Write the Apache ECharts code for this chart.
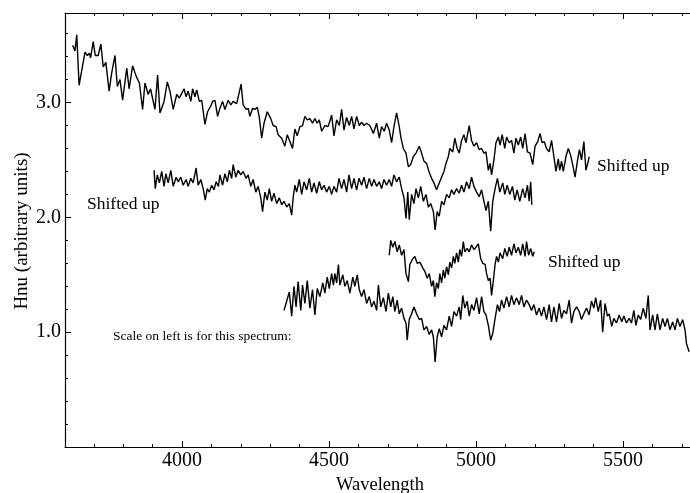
<!DOCTYPE html>
<html><head><meta charset="utf-8">
<script src="https://cdn.jsdelivr.net/npm/echarts@6/dist/echarts.min.js"></script>
<style>html,body{margin:0;padding:0;background:#fff}#c{width:690px;height:493px}</style>
</head><body><div id="c"></div>
<script>
// Spectrum 1 (top, shifted up)
const wl1=[3628,3636,3642,3650,3659,3670,3678,3685,3689,3698,3705,3715,3724,3732,3741,3752,3761,3772,3780,3789,3798,3812,3820,3832,3844,3855,3866,3874,3885,3893,3908,3917,3925,3939,3950,3959,3970,3982,3991,3999,4007,4014,4021,4030,4036,4044,4050,4059,4067,4078,4087,4098,4104,4112,4121,4129,4138,4146,4157,4166,4174,4186,4194,4201,4208,4218,4225,4231,4240,4248,4256,4263,4271,4279,4290,4302,4310,4320,4327,4339,4350,4358,4367,4376,4384,4392,4401,4410,4418,4426,4435,4444,4452,4460,4467,4475,4486,4497,4509,4517,4526,4535,4543,4551,4560,4569,4577,4585,4594,4603,4611,4619,4628,4639,4651,4662,4671,4679,4688,4696,4705,4713,4721,4730,4739,4745,4753,4762,4770,4778,4787,4796,4807,4815,4823,4832,4841,4849,4857,4866,4875,4883,4891,4898,4906,4911,4921,4928,4936,4943,4951,4959,4966,4977,4985,4993,5002,5011,5019,5027,5034,5042,5048,5053,5061,5068,5076,5082,5089,5098,5104,5113,5121,5129,5136,5144,5152,5159,5167,5175,5184,5193,5201,5210,5218,5225,5232,5240,5249,5257,5265,5272,5280,5285,5291,5297,5306,5314,5322,5329,5337,5345,5352,5359,5367,5374,5382,5385];
const flux1=[3.50,3.45,3.59,3.15,3.28,3.44,3.41,3.43,3.39,3.53,3.41,3.41,3.51,3.31,3.35,3.10,3.26,3.41,3.14,3.20,3.02,3.30,3.12,3.32,3.23,3.17,2.94,3.17,3.07,3.12,2.94,3.24,2.91,3.01,3.18,3.10,2.94,3.07,3.04,3.08,3.12,3.05,3.10,3.01,3.12,3.05,3.11,3.01,3.02,2.81,2.92,2.97,3.01,3.02,2.88,2.95,3.01,2.94,3.02,2.98,3.01,2.99,3.08,3.16,2.98,2.94,2.95,2.88,2.95,2.94,2.96,2.87,2.69,2.82,2.92,2.86,2.80,2.79,2.72,2.69,2.62,2.72,2.66,2.60,2.77,2.71,2.79,2.80,2.88,2.85,2.86,2.82,2.86,2.82,2.85,2.75,2.80,2.79,2.89,2.71,2.85,2.80,2.94,2.76,2.87,2.80,2.88,2.77,2.88,2.80,2.83,2.80,2.82,2.80,2.73,2.82,2.69,2.79,2.75,2.82,2.76,2.65,2.79,2.91,2.79,2.69,2.60,2.56,2.44,2.46,2.53,2.56,2.62,2.56,2.49,2.47,2.39,2.34,2.30,2.24,2.30,2.35,2.40,2.47,2.53,2.60,2.57,2.69,2.60,2.56,2.67,2.72,2.65,2.80,2.67,2.62,2.65,2.59,2.60,2.56,2.57,2.41,2.47,2.37,2.50,2.65,2.70,2.63,2.72,2.60,2.70,2.65,2.67,2.56,2.69,2.63,2.70,2.60,2.73,2.57,2.56,2.46,2.62,2.66,2.73,2.65,2.66,2.60,2.57,2.67,2.53,2.40,2.51,2.41,2.49,2.40,2.53,2.60,2.54,2.46,2.35,2.49,2.59,2.50,2.66,2.41,2.49,2.53];

// Spectrum 2 (shifted up)
const wl2=[3905,3909,3916,3923,3931,3939,3945,3953,3962,3970,3980,3987,3996,4004,4014,4021,4030,4038,4048,4055,4064,4072,4079,4086,4093,4101,4109,4116,4124,4129,4138,4146,4154,4161,4169,4174,4183,4191,4200,4208,4218,4225,4234,4242,4251,4259,4268,4274,4282,4290,4297,4305,4313,4322,4331,4339,4347,4356,4365,4373,4378,4384,4390,4399,4407,4415,4424,4433,4441,4449,4458,4467,4475,4483,4492,4501,4509,4517,4526,4534,4543,4551,4560,4568,4577,4585,4594,4602,4611,4619,4628,4637,4645,4653,4662,4671,4679,4687,4696,4705,4713,4721,4730,4739,4747,4755,4762,4768,4773,4781,4789,4796,4804,4812,4821,4830,4838,4846,4855,4861,4868,4875,4883,4891,4900,4909,4917,4925,4934,4943,4951,4959,4968,4977,4985,4993,5002,5011,5019,5027,5034,5042,5050,5057,5065,5073,5081,5091,5098,5106,5115,5124,5132,5140,5149,5159,5167,5175,5181,5186,5190];
const flux2=[2.41,2.25,2.37,2.30,2.40,2.27,2.38,2.30,2.41,2.27,2.35,2.31,2.35,2.28,2.33,2.27,2.34,2.30,2.43,2.28,2.33,2.25,2.15,2.25,2.22,2.28,2.24,2.31,2.27,2.37,2.28,2.38,2.31,2.41,2.34,2.46,2.35,2.41,2.37,2.40,2.34,2.37,2.27,2.33,2.22,2.27,2.17,2.05,2.22,2.15,2.25,2.14,2.21,2.12,2.17,2.11,2.14,2.09,2.12,2.02,2.17,2.28,2.22,2.33,2.20,2.31,2.24,2.34,2.22,2.30,2.21,2.31,2.24,2.28,2.22,2.27,2.20,2.27,2.22,2.34,2.25,2.33,2.22,2.37,2.25,2.34,2.24,2.34,2.28,2.35,2.25,2.34,2.27,2.33,2.27,2.31,2.25,2.33,2.28,2.33,2.27,2.37,2.31,2.35,2.25,2.17,1.99,2.22,1.98,2.20,2.12,2.25,2.17,2.27,2.14,2.20,2.09,2.12,2.05,1.89,2.05,2.01,2.14,2.11,2.20,2.17,2.24,2.20,2.25,2.21,2.28,2.22,2.31,2.25,2.35,2.27,2.22,2.18,2.24,2.14,2.06,2.14,1.88,2.14,2.25,2.34,2.22,2.30,2.20,2.28,2.20,2.27,2.15,2.24,2.14,2.25,2.17,2.28,2.14,2.31,2.11];

// Spectrum 3 (shifted up)
const wl3=[4705,4710,4717,4724,4732,4739,4747,4755,4762,4770,4775,4785,4792,4800,4809,4819,4826,4834,4841,4849,4855,4860,4866,4872,4877,4883,4889,4894,4900,4906,4911,4917,4923,4928,4934,4940,4945,4951,4957,4962,4970,4977,4985,4993,5000,5008,5016,5023,5031,5036,5042,5048,5053,5059,5065,5070,5076,5082,5091,5098,5106,5113,5121,5129,5136,5144,5152,5159,5167,5172,5179,5186,5193,5198];
const flux3=[1.67,1.80,1.74,1.79,1.70,1.76,1.67,1.72,1.51,1.44,1.59,1.64,1.66,1.60,1.61,1.56,1.53,1.47,1.51,1.40,1.45,1.31,1.43,1.38,1.51,1.43,1.54,1.47,1.57,1.50,1.61,1.56,1.66,1.60,1.69,1.61,1.72,1.66,1.79,1.70,1.73,1.70,1.76,1.72,1.74,1.77,1.64,1.60,1.59,1.51,1.45,1.47,1.32,1.45,1.59,1.66,1.61,1.69,1.64,1.73,1.66,1.74,1.67,1.77,1.69,1.74,1.67,1.77,1.66,1.79,1.67,1.73,1.66,1.70];

// Spectrum 4 (bottom, on the left scale)
const wl4=[4347,4356,4365,4373,4381,4388,4395,4404,4410,4418,4426,4435,4444,4452,4460,4469,4479,4486,4494,4501,4509,4515,4520,4526,4532,4537,4547,4554,4562,4571,4581,4588,4596,4603,4611,4619,4628,4637,4645,4653,4662,4668,4676,4685,4694,4702,4710,4717,4724,4732,4739,4747,4755,4762,4766,4773,4781,4789,4798,4807,4815,4823,4832,4841,4849,4855,4861,4868,4875,4883,4891,4900,4909,4917,4925,4934,4943,4948,4955,4962,4970,4977,4985,4993,5002,5011,5019,5027,5034,5042,5050,5057,5065,5073,5080,5087,5095,5104,5113,5121,5129,5138,5147,5155,5163,5172,5181,5189,5197,5206,5215,5223,5231,5240,5249,5257,5265,5274,5283,5291,5299,5308,5317,5325,5333,5342,5351,5359,5367,5376,5385,5393,5401,5407,5416,5424,5431,5439,5447,5453,5462,5469,5478,5487,5496,5503,5512,5521,5529,5537,5544,5552,5560,5569,5578,5586,5592,5601,5609,5617,5626,5635,5643,5651,5660,5669,5677,5685,5694,5703,5711,5716,5725];
const flux4=[1.19,1.27,1.35,1.14,1.40,1.22,1.44,1.19,1.41,1.25,1.45,1.21,1.37,1.15,1.38,1.31,1.43,1.34,1.48,1.38,1.51,1.41,1.51,1.43,1.59,1.41,1.50,1.40,1.45,1.34,1.48,1.40,1.50,1.37,1.31,1.37,1.25,1.31,1.22,1.27,1.19,1.41,1.22,1.30,1.18,1.34,1.22,1.31,1.18,1.28,1.16,1.21,1.12,1.08,0.93,1.11,1.16,1.22,1.16,1.11,1.12,1.02,1.05,0.98,1.02,0.96,0.74,0.96,1.03,0.96,1.06,1.02,1.14,1.05,1.18,1.14,1.22,1.11,1.32,1.21,1.27,1.14,1.24,1.19,1.30,1.16,1.31,1.18,1.15,1.06,0.93,0.99,1.12,1.24,1.18,1.28,1.21,1.31,1.22,1.32,1.24,1.30,1.24,1.32,1.22,1.28,1.24,1.19,1.24,1.15,1.21,1.14,1.22,1.11,1.24,1.09,1.22,1.09,1.25,1.12,1.19,1.16,1.28,1.08,1.18,1.22,1.18,1.11,1.16,1.21,1.15,1.27,1.21,1.30,1.18,1.28,1.00,1.25,1.14,1.16,1.05,1.12,1.08,1.15,1.09,1.14,1.08,1.12,1.08,1.19,1.06,1.15,1.11,1.21,1.12,1.32,1.02,1.15,1.02,1.16,1.02,1.12,1.05,1.12,1.02,1.09,1.02,1.12,1.05,1.11,1.02,0.90,0.83];

// Axes and ticks
const xMajorTicks=[4000,4500,5000,5500];
const xMinorTicks=[3700,3800,3900,4000,4100,4200,4300,4400,4500,4600,4700,4800,4900,5000,5100,5200,5300,5400,5500,5600,5700];
const yMajorTicks=[1,2,3];
const yMinorTicks=[0.2,0.4,0.6,0.8,1.0,1.2,1.4,1.6,1.8,2.0,2.2,2.4,2.6,2.8,3.0,3.2,3.4,3.6];
const xRange=[3602,5728];
const yRange=[0,3.78];

const texts={shifted:'Shifted up',scale:'Scale on left is for this spectrum:',xName:'Wavelength',yName:'Hnu (arbitrary units)'};

const FONT='Liberation Serif';
function pairs(a,b){return a.map((x,i)=>[x,b[i]]);}
const gridBox={left:65,top:13,width:625,height:434};
const ln={color:'#000',width:1.4};

function xAx(grid,pos,ticks,len,showLine,labels){
  return {type:'value',gridIndex:grid,position:pos,min:xRange[0],max:xRange[1],
    axisLine:{show:showLine,lineStyle:{color:'#000',width:1.2}},
    axisTick:{show:true,inside:true,length:len,customValues:ticks,lineStyle:{color:'#000',width:1}},
    axisLabel:labels?{show:true,customValues:xMajorTicks,formatter:v=>String(Math.round(v)),fontFamily:FONT,fontSize:20,color:'#000',margin:4,showMinLabel:true,showMaxLabel:true}:{show:false},
    splitLine:{show:false}};
}
function yAx(grid,ticks,len,showLine,labels){
  return {type:'value',gridIndex:grid,position:'left',min:yRange[0],max:yRange[1],
    axisLine:{show:showLine,lineStyle:{color:'#000',width:1.2}},
    axisTick:{show:true,inside:true,length:len,customValues:ticks,lineStyle:{color:'#000',width:1}},
    axisLabel:labels?{show:true,customValues:yMajorTicks,formatter:v=>Number(v).toFixed(1),fontFamily:FONT,fontSize:20,color:'#000',margin:4}:{show:false},
    splitLine:{show:false}};
}

const chart=echarts.init(document.getElementById('c'),null,{renderer:'canvas'});
chart.setOption({
  animation:false,
  backgroundColor:'#fff',
  grid:[Object.assign({},gridBox),Object.assign({},gridBox)],
  xAxis:[xAx(0,'bottom',xMajorTicks,6,true,true),xAx(0,'top',xMajorTicks,6,true,false),
         xAx(1,'bottom',xMinorTicks,3,false,false),xAx(1,'top',xMinorTicks,3,false,false)],
  yAxis:[yAx(0,yMajorTicks,6,true,true),yAx(1,yMinorTicks,3,false,false)],
  series:[
    {type:'line',xAxisIndex:0,yAxisIndex:0,data:pairs(wl1,flux1),showSymbol:false,lineStyle:ln,silent:true},
    {type:'line',xAxisIndex:0,yAxisIndex:0,data:pairs(wl2,flux2),showSymbol:false,lineStyle:ln,silent:true},
    {type:'line',xAxisIndex:0,yAxisIndex:0,data:pairs(wl3,flux3),showSymbol:false,lineStyle:ln,silent:true},
    {type:'line',xAxisIndex:0,yAxisIndex:0,data:pairs(wl4,flux4),showSymbol:false,lineStyle:ln,silent:true}
  ],
  graphic:[
    {type:'text',x:597,y:166,style:{text:texts.shifted,font:'17.5px "Liberation Serif"',fill:'#000',textVerticalAlign:'middle'}},
    {type:'text',x:87,y:204,style:{text:texts.shifted,font:'17.5px "Liberation Serif"',fill:'#000',textVerticalAlign:'middle'}},
    {type:'text',x:548,y:262,style:{text:texts.shifted,font:'17.5px "Liberation Serif"',fill:'#000',textVerticalAlign:'middle'}},
    {type:'text',x:113,y:336,style:{text:texts.scale,font:'13.5px "Liberation Serif"',fill:'#000',textVerticalAlign:'middle'}},
    {type:'text',x:380,y:485,style:{text:texts.xName,font:'18.5px "Liberation Serif"',fill:'#000',textAlign:'center',textVerticalAlign:'middle'}},
    {type:'text',x:22,y:231,rotation:Math.PI/2,style:{text:texts.yName,font:'19px "Liberation Serif"',fill:'#000',textAlign:'center',textVerticalAlign:'middle'}}
  ]
});
</script></body></html>
